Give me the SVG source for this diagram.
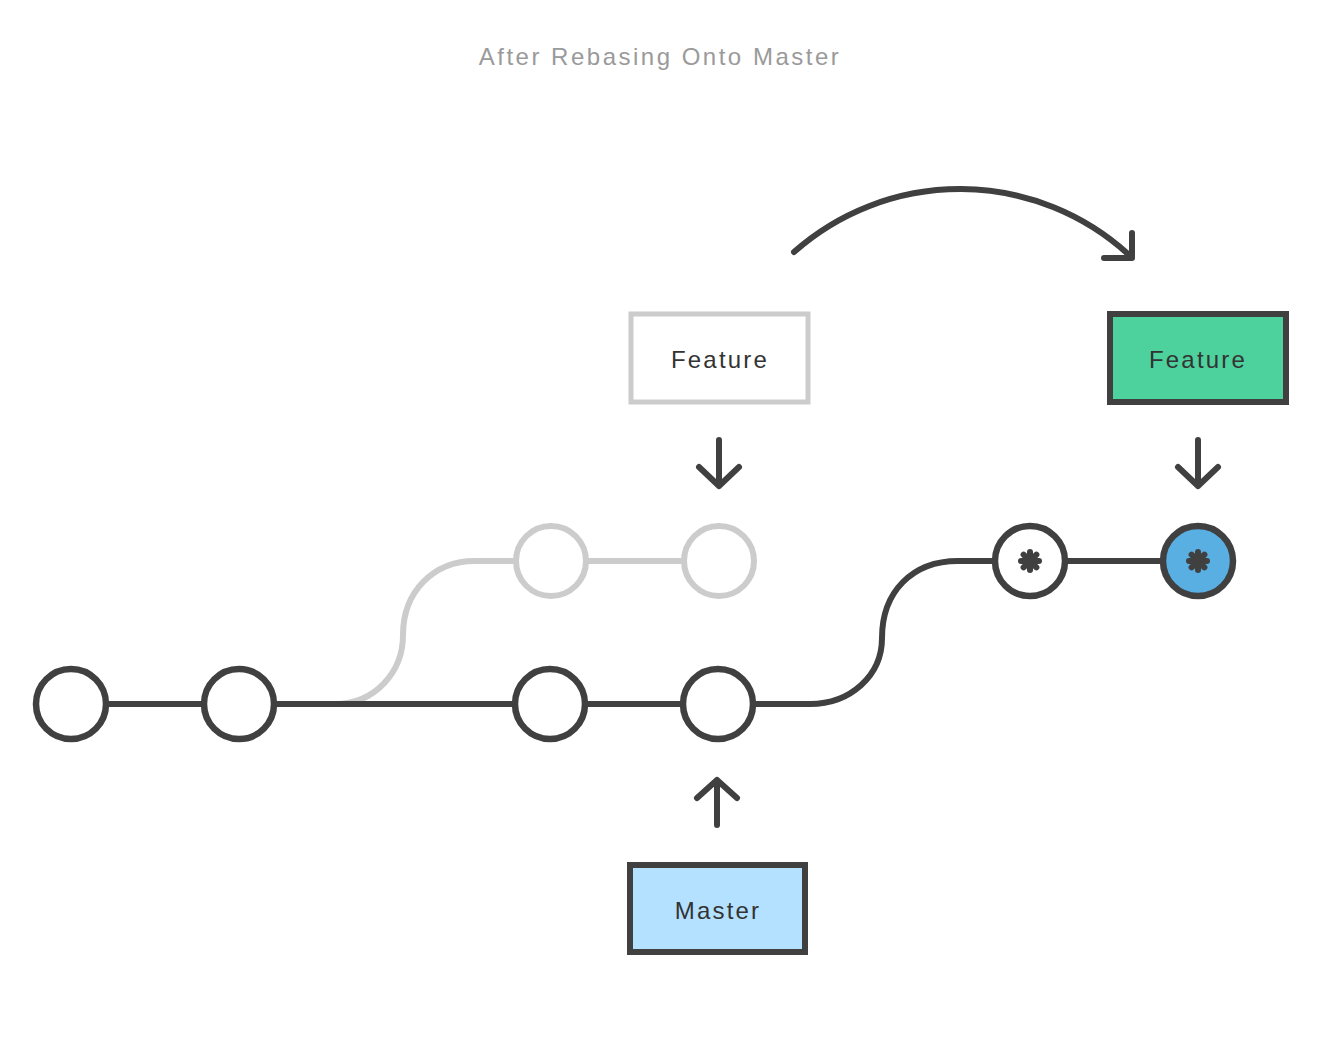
<svg xmlns="http://www.w3.org/2000/svg" width="1344" height="1048" viewBox="0 0 1344 1048">
<style>
  .title{font-family:"Liberation Sans",Arial,sans-serif;font-size:24px;fill:#9a9a9a;letter-spacing:2.5px;text-anchor:middle}
  .lbl{font-family:"Liberation Sans",Arial,sans-serif;font-size:24px;fill:#333;letter-spacing:2.2px;text-anchor:middle}
  .dark{fill:none;stroke:#404040;stroke-width:6;stroke-linecap:round;stroke-linejoin:round}
  .ghost{fill:none;stroke:#cccccc;stroke-width:6}
  .commit{fill:#fff;stroke:#404040;stroke-width:6.5}
  .gcommit{fill:#fff;stroke:#cccccc;stroke-width:6}
  .star{stroke:#404040;stroke-width:6;stroke-linecap:round}
</style>
<rect width="1344" height="1048" fill="#fff"/>
<text class="title" x="660" y="65">After Rebasing Onto Master</text>

<g id="connectors">
  <path class="ghost" d="M300 704 H335 C375 704 403 672 403 635 C403 592 433 561 475 561 H515"/>
  <line class="ghost" x1="586" y1="561" x2="684" y2="561"/>
  <line x1="105" y1="704" x2="205" y2="704" stroke="#404040" stroke-width="6"/>
  <line x1="272" y1="704" x2="514" y2="704" stroke="#404040" stroke-width="6"/>
  <line x1="586" y1="704" x2="682" y2="704" stroke="#404040" stroke-width="6"/>
  <path d="M754 704 H810 C850 704 882 676 882 638 C882 592 912 561 958 561 H995" fill="none" stroke="#404040" stroke-width="6"/>
  <line x1="1066" y1="561" x2="1162" y2="561" stroke="#404040" stroke-width="6"/>
  <path class="dark" d="M794 252 A250 250 0 0 1 1128 254"/>
  <path class="dark" d="M1132 233 V258 H1104"/>
  <path class="dark" d="M719 440 V486 M699 467 L719 486 L739 467"/>
  <path class="dark" d="M1198 440 V486 M1178 467 L1198 486 L1218 467"/>
  <path class="dark" d="M717 825 V780 M697 798 L717 780 L737 798"/>
</g>

<g id="c1"><circle class="commit" cx="71" cy="704" r="35"/></g>
<g id="c2"><circle class="commit" cx="239" cy="704" r="35"/></g>
<g id="c3"><circle class="commit" cx="550" cy="704" r="35"/></g>
<g id="c4"><circle class="commit" cx="718" cy="704" r="35"/></g>
<g id="g1"><circle class="gcommit" cx="551" cy="561" r="35"/></g>
<g id="g2"><circle class="gcommit" cx="719" cy="561" r="35"/></g>
<g id="n1">
  <circle class="commit" cx="1030" cy="561" r="35"/>
  <g class="star" transform="translate(1030 561)">
    <line x1="0" y1="-9" x2="0" y2="9"/><line x1="-9" y1="0" x2="9" y2="0"/>
    <line x1="-6.4" y1="-6.4" x2="6.4" y2="6.4"/><line x1="-6.4" y1="6.4" x2="6.4" y2="-6.4"/>
  </g>
</g>
<g id="n2">
  <circle cx="1198" cy="561" r="35" fill="#5aafe2" stroke="#404040" stroke-width="6.5"/>
  <g class="star" transform="translate(1198 561)">
    <line x1="0" y1="-9" x2="0" y2="9"/><line x1="-9" y1="0" x2="9" y2="0"/>
    <line x1="-6.4" y1="-6.4" x2="6.4" y2="6.4"/><line x1="-6.4" y1="6.4" x2="6.4" y2="-6.4"/>
  </g>
</g>

<g id="feature-old">
  <rect x="631" y="314" width="177" height="88" fill="#fff" stroke="#cccccc" stroke-width="5"/>
  <text class="lbl" x="720" y="368">Feature</text>
</g>
<g id="feature-new">
  <rect x="1110" y="314" width="176" height="88" fill="#4dd19d" stroke="#404040" stroke-width="6"/>
  <text class="lbl" x="1198" y="368">Feature</text>
</g>
<g id="master">
  <rect x="630" y="865" width="175" height="87" fill="#b3e1ff" stroke="#404040" stroke-width="6"/>
  <text class="lbl" x="718" y="919">Master</text>
</g>
</svg>
